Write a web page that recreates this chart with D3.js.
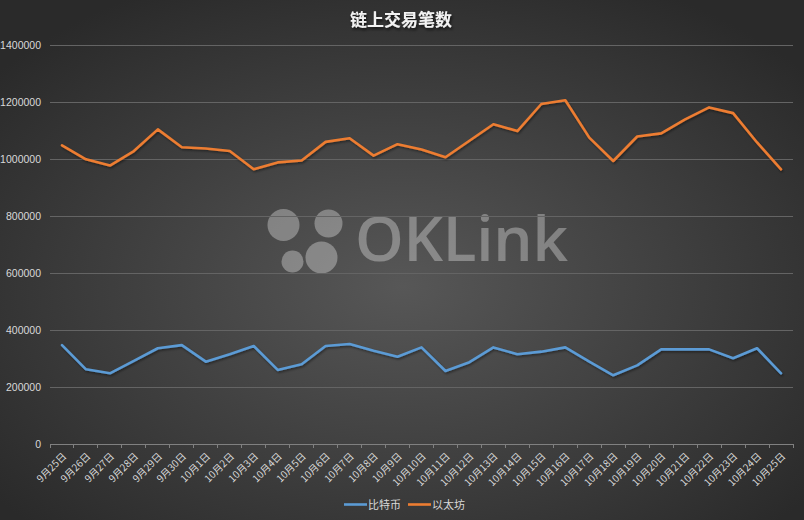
<!DOCTYPE html>
<html><head><meta charset="utf-8">
<script src="https://cdn.jsdelivr.net/npm/d3@7/dist/d3.min.js"></script>
<style>html,body{margin:0;padding:0;background:#333;}svg{display:block;}</style>
</head><body>
<script>
const categories = ["9月25日","9月26日","9月27日","9月28日","9月29日","9月30日","10月1日","10月2日","10月3日","10月4日","10月5日","10月6日","10月7日","10月8日","10月9日","10月10日","10月11日","10月12日","10月13日","10月14日","10月15日","10月16日","10月17日","10月18日","10月19日","10月20日","10月21日","10月22日","10月23日","10月24日","10月25日"];
const btc = [347000,262000,248000,292000,336000,347000,289000,315000,344000,260000,280000,344000,351000,327000,306000,339000,256000,287000,339000,315000,324000,339000,289000,241000,276000,332000,332000,332000,301000,336000,248000];
const eth = [1048000,999000,977000,1028000,1104000,1041000,1037000,1028000,964000,988000,995000,1060000,1073000,1012000,1052000,1033000,1006000,1064000,1122000,1098000,1193000,1206000,1075000,993000,1079000,1090000,1139000,1181000,1161000,1058000,964000];
const yTicks = [0,200000,400000,600000,800000,1000000,1200000,1400000];
const seriesNames = ["比特币","以太坊"];
const colors = ["#5B9BD5","#ED7D31"];
const title = "链上交易笔数";

const W = 804, H = 520;
const svg = d3.select("body").append("svg").attr("width", W).attr("height", H);
const defs = svg.append("defs");
const rg = defs.append("radialGradient").attr("id","bg").attr("cx","50%").attr("cy","55%").attr("r","65%");
rg.append("stop").attr("offset","0%").attr("stop-color","#575757");
rg.append("stop").attr("offset","100%").attr("stop-color","#2a2a2a");
const sh = defs.append("filter").attr("id","sh").attr("x","-10%").attr("y","-10%").attr("width","120%").attr("height","130%");
sh.append("feDropShadow").attr("dx",1).attr("dy",1.5).attr("stdDeviation",1.2).attr("flood-color","#000").attr("flood-opacity",0.45);
const tsh = defs.append("filter").attr("id","tsh");
tsh.append("feDropShadow").attr("dx",1).attr("dy",2).attr("stdDeviation",1.5).attr("flood-color","#000").attr("flood-opacity",0.7);

svg.append("rect").attr("width",W).attr("height",H).attr("fill","url(#bg)");

const x = d3.scaleBand().domain(categories).range([50, 793]).padding(0);
const y = d3.scaleLinear().domain([0,1400000]).range([444, 45]);

// watermark
const wm = svg.append("g").attr("fill","#ffffff").attr("fill-opacity",0.32);
[[283.5,225,16],[328.5,223.5,14],[292.5,261.5,11],[321.5,257.5,16]].forEach(c=>{
  wm.append("circle").attr("cx",c[0]).attr("cy",c[1]).attr("r",c[2]);
});
wm.append("text").attr("x",355).attr("y",261).attr("font-family","'Open Sans', sans-serif").attr("font-weight",600).attr("font-size",62).attr("textLength",213).text("OKLink");

// gridlines
svg.append("g").selectAll("line").data(yTicks.filter(d=>d>0)).join("line")
  .attr("x1",50).attr("x2",793).attr("y1",d=>y(d)).attr("y2",d=>y(d))
  .attr("stroke","#646464").attr("stroke-width",1).attr("shape-rendering","crispEdges");

// y axis labels
svg.append("g").selectAll("text").data(yTicks).join("text")
  .attr("x",41).attr("y",d=>y(d)+3.5).attr("text-anchor","end")
  .attr("font-family","'Liberation Sans Narrow','Liberation Sans',sans-serif").attr("font-size",10.5)
  .attr("fill","#d9d9d9").text(d=>d);

// x axis
const xAxis = d3.axisBottom(x).tickSize(0).tickFormat("");
const ax = svg.append("g").attr("transform",`translate(0,${y(0)})`).call(xAxis);
ax.select(".domain").attr("stroke","#808080");
const bounds = categories.map(c=>x(c)).concat([x.range()[1]]);
svg.append("g").selectAll("line").data(bounds).join("line")
  .attr("x1",d=>d).attr("x2",d=>d).attr("y1",y(0)).attr("y2",y(0)+4)
  .attr("stroke","#808080").attr("shape-rendering","crispEdges");

svg.append("g").selectAll("text").data(categories).join("text")
  .attr("transform",d=>`translate(${x(d)+x.bandwidth()/2+5},${y(0)+13}) rotate(-45)`)
  .attr("text-anchor","end")
  .attr("font-family","'Noto Sans CJK SC','Liberation Sans',sans-serif").attr("font-size",10)
  .attr("fill","#d9d9d9").text(d=>d);

// lines
const line = d3.line().x((d,i)=>x(categories[i])+x.bandwidth()/2).y(d=>y(d)).curve(d3.curveLinear);
[btc, eth].forEach((s,k)=>{
  svg.append("path").datum(s).attr("d",line).attr("fill","none")
    .attr("stroke",colors[k]).attr("stroke-width",2.6).attr("stroke-linejoin","round").attr("stroke-linecap","round")
    .attr("filter","url(#sh)");
});

// title
svg.append("text").attr("x",401).attr("y",26).attr("text-anchor","middle")
  .attr("font-family","'Noto Sans CJK SC',sans-serif").attr("font-weight",700).attr("font-size",17)
  .attr("fill","#f2f2f2").attr("filter","url(#tsh)").text(title);

// legend
const lg = svg.append("g");
const lx = [344, 408];
seriesNames.forEach((n,k)=>{
  lg.append("line").attr("x1",lx[k]).attr("x2",lx[k]+23).attr("y1",504.5).attr("y2",504.5)
    .attr("stroke",colors[k]).attr("stroke-width",2.6);
  lg.append("text").attr("x",lx[k]+24).attr("y",508.5)
    .attr("font-family","'Noto Sans CJK SC',sans-serif").attr("font-size",11)
    .attr("fill","#d9d9d9").text(n);
});
</script>
</body></html>
